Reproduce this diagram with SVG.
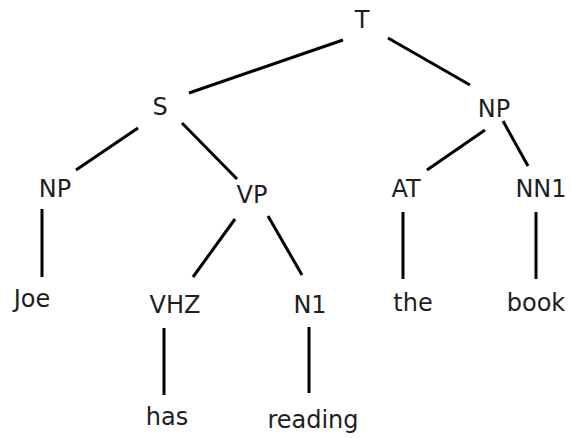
<svg xmlns="http://www.w3.org/2000/svg" width="571" height="438" viewBox="0 0 571 438">
  <style>
    .lbl { font-family: "DejaVu Sans", "Liberation Sans", sans-serif; font-size: 24px; fill: #1e1e1e; text-anchor: middle; }
    .edge { stroke: #000; stroke-width: 3; stroke-linecap: butt; fill: none; }
  </style>
  <rect width="571" height="438" fill="#fff"/>

  <!-- tree branches -->
  <g id="connectors">
    <line class="edge" x1="343" y1="40" x2="189" y2="93"/>
    <line class="edge" x1="388" y1="38" x2="470" y2="85"/>
    <line class="edge" x1="138" y1="128" x2="76" y2="170"/>
    <line class="edge" x1="182" y1="123" x2="237" y2="179"/>
    <line class="edge" x1="485" y1="130" x2="427" y2="170"/>
    <line class="edge" x1="503" y1="121" x2="528" y2="166"/>
    <line class="edge" x1="42" y1="209" x2="42" y2="277"/>
    <line class="edge" x1="235" y1="219" x2="193" y2="277"/>
    <line class="edge" x1="268" y1="216" x2="302" y2="275"/>
    <line class="edge" x1="403" y1="212" x2="403" y2="279"/>
    <line class="edge" x1="536" y1="212" x2="536" y2="279"/>
    <line class="edge" x1="164" y1="328" x2="164" y2="395"/>
    <line class="edge" x1="309" y1="327" x2="309" y2="393"/>
  </g>

  <!-- tree nodes -->
  <g id="n-T"><text class="lbl" x="362" y="28">T</text></g>
  <g id="n-S"><text class="lbl" x="160" y="115">S</text></g>
  <g id="n-NP2"><text class="lbl" x="494" y="117">NP</text></g>
  <g id="n-NP1"><text class="lbl" x="55" y="197">NP</text></g>
  <g id="n-VP"><text class="lbl" x="252" y="203">VP</text></g>
  <g id="n-AT"><text class="lbl" x="406" y="197">AT</text></g>
  <g id="n-NN1"><text class="lbl" x="541" y="197">NN1</text></g>
  <g id="n-Joe"><text class="lbl" x="32" y="307">Joe</text></g>
  <g id="n-VHZ"><text class="lbl" x="175" y="313">VHZ</text></g>
  <g id="n-N1"><text class="lbl" x="310" y="313">N1</text></g>
  <g id="n-the"><text class="lbl" x="413" y="311">the</text></g>
  <g id="n-book"><text class="lbl" x="536" y="311">book</text></g>
  <g id="n-has"><text class="lbl" x="167" y="425">has</text></g>
  <g id="n-reading"><text class="lbl" x="313" y="428">reading</text></g>
</svg>
